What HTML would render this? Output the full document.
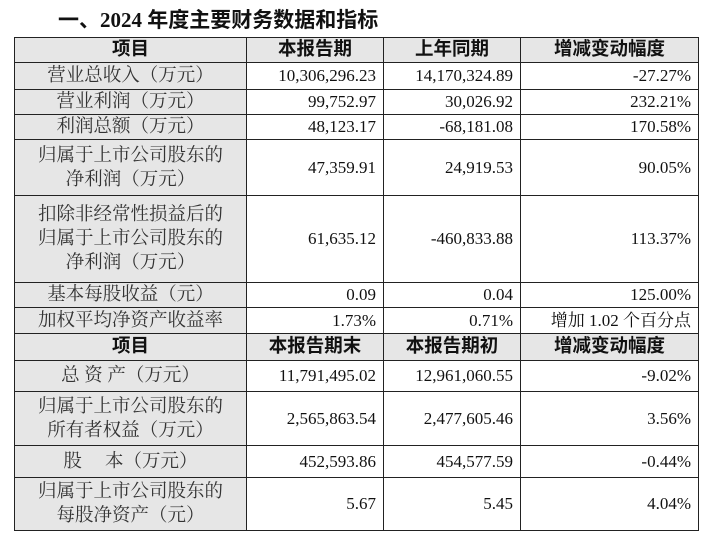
<!DOCTYPE html>
<html><head><meta charset="utf-8"><style>
body{margin:0;background:#fff;width:714px;height:540px;overflow:hidden;font-family:"Liberation Serif","Noto Serif CJK SC",serif;color:#111}
.t{position:absolute;left:58px;top:4px;font-size:21px;font-weight:bold;font-family:"Liberation Serif","Noto Sans CJK SC",sans-serif}
table{position:absolute;left:14px;top:37px;border-collapse:collapse;table-layout:fixed;width:684px}
td{border:1.5px solid #222;font-size:17px;line-height:24px;padding:0 7px;white-space:nowrap}
td:first-child{background:#e6e6e6;text-align:center;font-size:18.5px;color:#333}
td.n{text-align:right}
tr.h td{background:#e6e6e6;text-align:center;font-weight:bold;font-size:18.5px;color:#111;font-family:"Liberation Serif","Noto Sans CJK SC",sans-serif}
</style></head><body>
<div class="t">一、2024 年度主要财务数据和指标</div>
<table>
<col style="width:232px"><col style="width:137px"><col style="width:137px"><col style="width:178px">
<tr class="h" style="height:25px"><td>项目</td><td>本报告期</td><td>上年同期</td><td>增减变动幅度</td></tr>
<tr style="height:27px"><td>营业总收入（万元）</td><td class="n">10,306,296.23</td><td class="n">14,170,324.89</td><td class="n">-27.27%</td></tr>
<tr style="height:24px"><td>营业利润（万元）</td><td class="n">99,752.97</td><td class="n">30,026.92</td><td class="n">232.21%</td></tr>
<tr style="height:25px"><td>利润总额（万元）</td><td class="n">48,123.17</td><td class="n">-68,181.08</td><td class="n">170.58%</td></tr>
<tr style="height:56px"><td>归属于上市公司股东的<br>净利润（万元）</td><td class="n">47,359.91</td><td class="n">24,919.53</td><td class="n">90.05%</td></tr>
<tr style="height:87px"><td>扣除非经常性损益后的<br>归属于上市公司股东的<br>净利润（万元）</td><td class="n">61,635.12</td><td class="n">-460,833.88</td><td class="n">113.37%</td></tr>
<tr style="height:24px"><td>基本每股收益（元）</td><td class="n">0.09</td><td class="n">0.04</td><td class="n">125.00%</td></tr>
<tr style="height:26px"><td>加权平均净资产收益率</td><td class="n">1.73%</td><td class="n">0.71%</td><td class="n">增加 1.02 个百分点</td></tr>
<tr class="h" style="height:27px"><td>项目</td><td>本报告期末</td><td>本报告期初</td><td>增减变动幅度</td></tr>
<tr style="height:31px"><td>总 资 产（万元）</td><td class="n">11,791,495.02</td><td class="n">12,961,060.55</td><td class="n">-9.02%</td></tr>
<tr style="height:54px"><td>归属于上市公司股东的<br>所有者权益（万元）</td><td class="n">2,565,863.54</td><td class="n">2,477,605.46</td><td class="n">3.56%</td></tr>
<tr style="height:32px"><td>股&nbsp;&nbsp;&nbsp;&nbsp;&nbsp;本（万元）</td><td class="n">452,593.86</td><td class="n">454,577.59</td><td class="n">-0.44%</td></tr>
<tr style="height:53px"><td>归属于上市公司股东的<br>每股净资产（元）</td><td class="n">5.67</td><td class="n">5.45</td><td class="n">4.04%</td></tr>
</table>
</body></html>
